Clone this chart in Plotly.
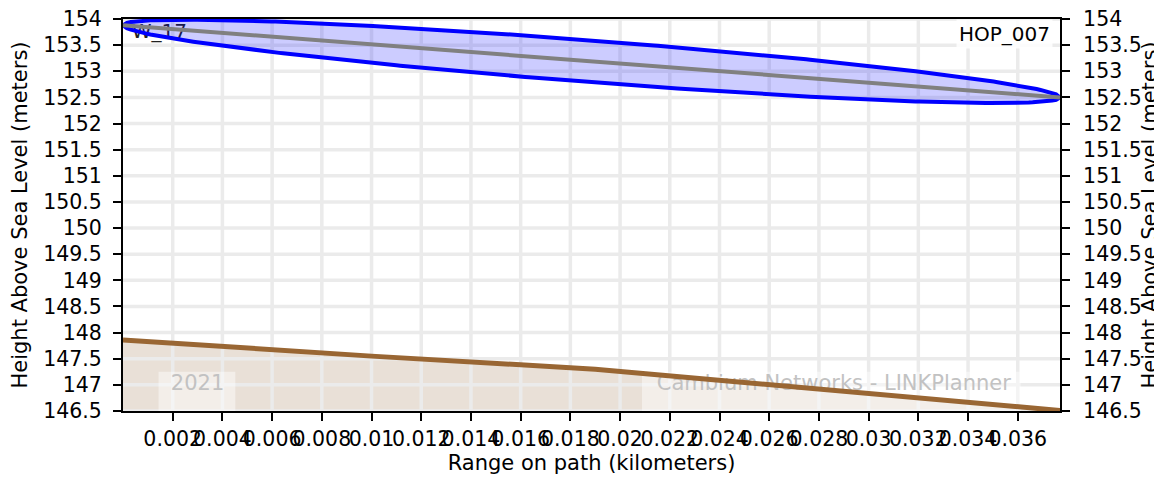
import numpy as np
import plotly.graph_objects as go

# ---------------- data ----------------
path_length_km = 0.0377
site_names = ["W_17", "HOP_007"]
antenna_heights = [153.88, 152.50]   # line-of-sight end heights (m)
fresnel_radius_mid = 0.40            # Fresnel zone radius at mid-path (m)

terrain_x = [0.0, 0.010, 0.019, 0.028, 0.0377]
terrain_h = [147.86, 147.55, 147.30, 146.93, 146.51]

x_ticks = [0.002, 0.004, 0.006, 0.008, 0.01, 0.012, 0.014, 0.016, 0.018, 0.02,
           0.022, 0.024, 0.026, 0.028, 0.03, 0.032, 0.034, 0.036]
x_tick_labels = ["0.002", "0.004", "0.006", "0.008", "0.01", "0.012", "0.014", "0.016",
                 "0.018", "0.02", "0.022", "0.024", "0.026", "0.028", "0.03", "0.032",
                 "0.034", "0.036"]
y_ticks = [146.5, 147, 147.5, 148, 148.5, 149, 149.5, 150, 150.5, 151, 151.5,
           152, 152.5, 153, 153.5, 154]
y_tick_labels = ["146.5", "147", "147.5", "148", "148.5", "149", "149.5", "150", "150.5",
                 "151", "151.5", "152", "152.5", "153", "153.5", "154"]

watermarks = ["2021", "Cambium Networks - LINKPlanner"]

# ---------------- layout constants ----------------
Y_MIN, Y_MAX = 146.5, 154.0
FONT = "DejaVu Sans"
wm_centers = [(0.0030, 147.0), (0.0286, 147.0)]
wm_boxes = [(0.00143, 0.00452, 146.5, 147.25), (0.02088, 0.03612, 146.5, 147.25)]

# ---------------- geometry ----------------
t = np.linspace(0, 1, 241)
xc = path_length_km * t
yc = antenna_heights[0] + (antenna_heights[1] - antenna_heights[0]) * t
r = fresnel_radius_mid * 2 * np.sqrt(np.clip(t * (1 - t), 0, None))
ell_x = np.concatenate([xc, xc[::-1]])
ell_y = np.concatenate([yc + r, (yc - r)[::-1]])

# grid lines built from tick arrays
gx, gy = [], []
for xv in x_ticks:
    gx += [xv, xv, None]
    gy += [Y_MIN, Y_MAX, None]
for yv in y_ticks:
    gx += [0, path_length_km, None]
    gy += [yv, yv, None]

fig = go.Figure()

# terrain fill
fig.add_trace(go.Scatter(x=terrain_x, y=terrain_h, mode="lines", line=dict(width=0),
                         fill="tozeroy", fillcolor="#e9e0d7", hoverinfo="skip",
                         showlegend=False))
# grid
fig.add_trace(go.Scatter(x=gx, y=gy, mode="lines", line=dict(color="#ebebeb", width=3.5),
                         hoverinfo="skip", showlegend=False))
# watermark boxes and text
for (x0, x1, y0, y1) in wm_boxes:
    fig.add_trace(go.Scatter(x=[x0, x1, x1, x0, x0], y=[y0, y0, y1, y1, y0], mode="lines",
                             line=dict(width=0), fill="toself",
                             fillcolor="rgba(255,255,255,0.45)", hoverinfo="skip",
                             showlegend=False))
for txt, (wx, wy) in zip(watermarks, wm_centers):
    fig.add_trace(go.Scatter(x=[wx], y=[wy], mode="text", text=[txt],
                             textposition="middle center",
                             textfont=dict(family=FONT, size=21, color="#c2c2c2"),
                             hoverinfo="skip", showlegend=False))
# terrain line
fig.add_trace(go.Scatter(x=terrain_x, y=terrain_h, mode="lines",
                         line=dict(color="#996633", width=5), showlegend=False))
# site label left
fig.add_trace(go.Scatter(x=[0.00035], y=[153.74], mode="text", text=[site_names[0]],
                         textposition="middle right",
                         textfont=dict(family=FONT, size=20, color="#222222"),
                         hoverinfo="skip", showlegend=False))
# Fresnel ellipse
fig.add_trace(go.Scatter(x=ell_x, y=ell_y, mode="lines", fill="toself",
                         fillcolor="rgba(0,0,255,0.2)",
                         line=dict(color="#0000ff", width=4), showlegend=False,
                         cliponaxis=False))
# line of sight
fig.add_trace(go.Scatter(x=[0, path_length_km], y=antenna_heights, mode="lines",
                         line=dict(color="#808080", width=4), showlegend=False))
# dummy on right axis
fig.add_trace(go.Scatter(x=[0], y=[Y_MIN], yaxis="y2", mode="lines",
                         line=dict(width=0), showlegend=False, hoverinfo="skip"))

axis_common = dict(showgrid=False, zeroline=False, showline=True, linecolor="black",
                   linewidth=2, ticks="outside", ticklen=8, tickwidth=1.5,
                   tickcolor="black", automargin=False, ticklabeloverflow="allow",
                   tickfont=dict(family=FONT, size=20.5, color="black"))

fig.update_layout(
    width=1154, height=469, autosize=False,
    margin=dict(l=115, r=102, t=11, b=66),
    paper_bgcolor="white", plot_bgcolor="white",
    font=dict(family=FONT, color="black"),
    xaxis=dict(range=[0, path_length_km], tickvals=x_ticks, ticktext=x_tick_labels,
               mirror=True, tickangle=0,
               title=dict(text="Range on path (kilometers)",
                          font=dict(family=FONT, size=21), standoff=4),
               **axis_common),
    yaxis=dict(range=[Y_MIN, Y_MAX], tickvals=y_ticks, ticktext=y_tick_labels,
               ticklabelstandoff=7,
               title=dict(text="Height Above Sea Level (meters)",
                          font=dict(family=FONT, size=21), standoff=10),
               **axis_common),
    yaxis2=dict(range=[Y_MIN, Y_MAX], tickvals=y_ticks, ticktext=y_tick_labels,
                overlaying="y", side="right", ticklabelstandoff=9,
                title=dict(text="Height Above Sea Level (meters)",
                           font=dict(family=FONT, size=21), standoff=6),
                **axis_common),
    annotations=[dict(text=site_names[1], xref="paper", yref="paper",
                      x=(1053 - 123) / 937, y=1, xanchor="right", yanchor="top",
                      showarrow=False, bgcolor="rgba(255,255,255,0.85)", borderpad=2,
                      font=dict(family=FONT, size=20, color="black"))],
)

fig.write_html("out.html")
